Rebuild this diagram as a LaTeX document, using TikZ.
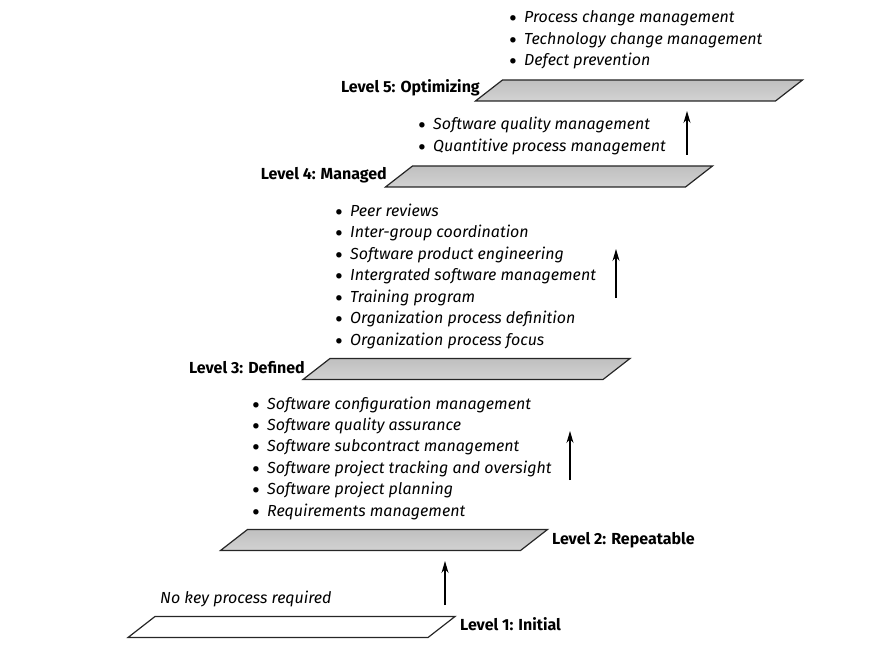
\documentclass[tikz,border=0pt]{standalone}
\usepackage{fontspec}
\setmainfont{Fira Sans}
\usetikzlibrary{arrows.meta,positioning}
\newcommand\txtsize{\fontsize{16}{19}\selectfont}
\newcommand\bul{\makebox[15pt][l]{\smash{\raisebox{-4pt}{\fontsize{24}{24}\selectfont\textbullet}}}}
\tikzset{
  platform/.style={draw=black!85, line width=1.2pt, line join=miter},
  shaded/.style={platform, top color=gray!50, middle color=gray!12, bottom color=gray!35},
  lvl/.style={anchor=base west, inner sep=0pt, font=\txtsize\bfseries},
  item/.style={anchor=base west, inner sep=0pt, font=\txtsize},
  up/.style={-{Stealth[length=12pt,width=7pt]}, line width=1.1pt},
}
\begin{document}
\begin{tikzpicture}[x=1pt,y=-1pt]
  \useasboundingbox (0,0) rectangle (888,655);

  % centres of the five platforms
  \coordinate (L1) at (291.5,627);
  \coordinate (L2) at (384,540);
  \coordinate (L3) at (466.5,369);
  \coordinate (L4) at (549,176.5);
  \coordinate (L5) at (639,90.5);
  \draw[platform] (L1) ++(-163.5,10.5) -- ++(300,0) -- ++(27,-21) -- ++(-300,0) -- cycle;
  \foreach \l in {L2,L3,L4,L5}
    \draw[shaded] (\l) ++(-163.5,10.5) -- ++(300,0) -- ++(27,-21) -- ++(-300,0) -- cycle;

  % level names
  \node[lvl] (n1) at (460,630) {Level 1: Initial};
  \node[lvl] (n2) at (552,544) {Level 2: Repeatable};
  \node[lvl, anchor=base east] (n3) at (305,373) {Level 3: Defined};
  \node[lvl, anchor=base east] (n4) at (387,180) {Level 4: Managed};
  \node[lvl, anchor=base east] (n5) at (480,93) {Level 5: Optimizing};

  % key process areas
  \node[item] (k1) at (160,603) {\textit{No key process required}};
  \foreach \t [count=\i] in {Software configuration management, Software quality assurance,
      Software subcontract management, Software project tracking and oversight,
      Software project planning, Requirements management}
    \node[item] (k2-\i) at (252,{409+21.4*(\i-1)}) {\bul\textit{\t}};
  \foreach \t [count=\i] in {Peer reviews, Inter-group coordination, Software product engineering,
      Intergrated software management, Training program, Organization process definition,
      Organization process focus}
    \node[item] (k3-\i) at (335,{216+21.5*(\i-1)}) {\bul\textit{\t}};
  \foreach \t [count=\i] in {Software quality management, Quantitive process management}
    \node[item] (k4-\i) at (418,{130+21.5*(\i-1)}) {\bul\textit{\t}};
  \foreach \t [count=\i] in {Process change management, Technology change management, Defect prevention}
    \node[item] (k5-\i) at (509,{23+21.5*(\i-1)}) {\bul\textit{\t}};

  % arrows between levels
  \coordinate (a1) at (445,605); \coordinate (b1) at (445,561);
  \coordinate (a2) at (570,480); \coordinate (b2) at (570,431);
  \coordinate (a3) at (616,298); \coordinate (b3) at (616,249);
  \coordinate (a4) at (687,155); \coordinate (b4) at (687,111);
  \foreach \i in {1,...,4}
    \draw[up] (a\i) -- (b\i);
\end{tikzpicture}
\end{document}
